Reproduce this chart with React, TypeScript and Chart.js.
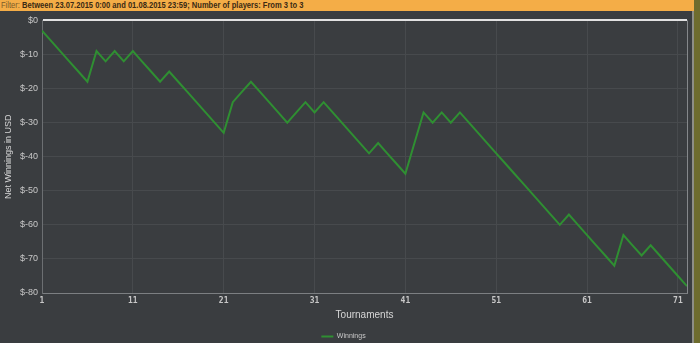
import React, { useEffect, useRef } from "react";
import { Chart, registerables } from "chart.js";

Chart.register(...registerables);

const tournaments: number[] = Array.from({ length: 72 }, (_, i) => i + 1);
const winnings: number[] = [
  -3, -6, -9, -12, -15, -18, -9, -12, -9, -12,
  -9, -12, -15, -18, -15, -18, -21, -24, -27, -30,
  -33, -24, -21, -18, -21, -24, -27, -30, -27, -24,
  -27, -24, -27, -30, -33, -36, -39, -36, -39, -42,
  -45, -36, -27, -30, -27, -30, -27, -30, -33, -36,
  -39, -42, -45, -48, -51, -54, -57, -60, -57, -60,
  -63, -66, -69, -72, -63, -66, -69, -66, -69, -72,
  -75, -78,
];
const xTicks: number[] = [1, 11, 21, 31, 41, 51, 61, 71, 72];
const seriesLabel = "Winnings";
const xTitle = "Tournaments";
const yTitle = "Net Winnings in USD";
const filterLabel = "Filter:";
const filterText =
  "Between 23.07.2015 0:00 and 01.08.2015 23:59; Number of players: From 3 to 3";

export default function App() {
  const ref = useRef<HTMLCanvasElement | null>(null);

  useEffect(() => {
    document.body.style.margin = "0";
    if (!ref.current) return;
    const chart = new Chart(ref.current, {
      type: "line",
      data: {
        datasets: [
          {
            label: seriesLabel,
            data: tournaments.map((t, i) => ({ x: t, y: winnings[i] })),
            borderColor: "#2f8f32",
            backgroundColor: "#2f8f32",
            borderWidth: 2,
            pointRadius: 0,
            pointStyle: "line",
            tension: 0,
          },
        ],
      },
      options: {
        animation: false,
        responsive: false,
        maintainAspectRatio: false,
        layout: { padding: { top: 8, right: 7, left: 0, bottom: -7 } },
        plugins: {
          tooltip: { enabled: false },
          legend: {
            position: "bottom",
            labels: {
              color: "#c8c8c8",
              usePointStyle: true,
              pointStyle: "line",
              pointStyleWidth: 12,
              boxHeight: 7,
              padding: 1,
              font: { size: 7, family: "Liberation Sans" },
            },
          },
        },
        scales: {
          x: {
            type: "linear",
            min: 1,
            max: 72,
            afterBuildTicks: (scale: any) => {
              scale.ticks = xTicks.map((v) => ({ value: v }));
            },
            afterFit: (scale: any) => {
              scale.height = 39;
            },
            ticks: {
              autoSkip: false,
              maxRotation: 0,
              padding: 3,
              color: "#c8c8c8",
              font: { size: 8, family: "DejaVu Sans Mono", weight: "bold" },
              callback: (v: any) => (v === 72 ? "" : String(v)),
            },
            grid: {
              drawTicks: false,
              color: (ctx: any) =>
                ctx.tick && ctx.tick.value === 72 ? "#85888b" : "#474a4d",
              lineWidth: 1,
            },
            border: { color: "#7c7f82", width: 1 },
            title: {
              display: true,
              text: xTitle,
              color: "#d6d6d6",
              font: { size: 10, family: "Liberation Sans" },
              padding: { top: 2, bottom: 11 },
            },
          },
          y: {
            min: -80,
            max: 0,
            afterFit: (scale: any) => {
              scale.width = 42;
            },
            ticks: {
              stepSize: 10,
              padding: 4,
              color: "#c8c8c8",
              font: { size: 9, family: "Liberation Sans" },
              callback: (v: any) => "$" + v,
            },
            grid: {
              drawTicks: false,
              color: (ctx: any) =>
                ctx.tick && ctx.tick.value === 0 ? "#e2e2e2" : "#474a4d",
              lineWidth: (ctx: any) =>
                ctx.tick && ctx.tick.value === 0 ? 2 : 1,
            },
            border: { color: "#6c6f72", width: 1 },
            title: {
              display: true,
              text: yTitle,
              color: "#d6d6d6",
              font: { size: 9, family: "Liberation Sans" },
              padding: { top: 3, bottom: 2 },
            },
          },
        },
      },
    });
    return () => chart.destroy();
  }, []);

  return (
    <div
      style={{
        position: "fixed",
        left: 0,
        top: 0,
        width: 700,
        height: 343,
        background: "#6e6c2e",
        overflow: "hidden",
      }}
    >
      <div
        style={{
          position: "absolute",
          left: 0,
          top: 0,
          width: 694,
          height: 343,
          background: "#3a3d40",
          borderRight: "2px solid #8e8e86",
          boxSizing: "border-box",
        }}
      />
      <div
        style={{
          position: "absolute",
          left: 0,
          top: 0,
          width: 694,
          height: 11,
          background: "#f4ad47",
          overflow: "hidden",
          whiteSpace: "nowrap",
        }}
      >
        <div
          style={{
            position: "absolute",
            left: 1,
            top: 0,
            lineHeight: "11px",
            fontSize: 9,
            fontFamily: "Liberation Sans",
            transform: "scaleX(0.84)",
            transformOrigin: "left center",
          }}
        >
          <span style={{ color: "#7a5a2a" }}>{filterLabel} </span>
          <span style={{ color: "#3a2a14", fontWeight: "bold" }}>{filterText}</span>
        </div>
      </div>
      <canvas
        ref={ref}
        width={694}
        height={332}
        style={{ position: "absolute", left: 0, top: 11, width: 694, height: 332 }}
      />
    </div>
  );
}
